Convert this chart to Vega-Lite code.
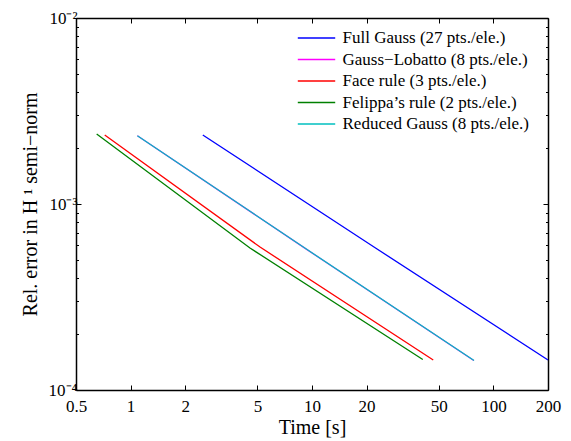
{
  "$schema": "https://vega.github.io/schema/vega-lite/v6.json",
  "width": 472,
  "height": 372,
  "autosize": {"type": "none"},
  "padding": {"left": 76, "top": 18, "right": 23, "bottom": 51},
  "background": "white",
  "config": {
    "view": {"stroke": null},
    "font": "Liberation Serif",
    "axis": {
      "grid": false,
      "domainColor": "black",
      "domainWidth": 1.5,
      "tickColor": "black",
      "tickWidth": 1,
      "labelColor": "black",
      "labelFont": "Liberation Serif",
      "labelFontSize": 17,
      "titleFont": "Liberation Serif",
      "titleFontSize": 20,
      "titleFontWeight": "normal",
      "titleColor": "black",
      "labelFlush": false,
      "labelOverlap": false
    },
    "legend": {
      "labelFont": "Liberation Serif",
      "labelFontSize": 17,
      "labelColor": "black",
      "labelLimit": 0
    }
  },
  "data": {
    "values": [
      {"series": "Full Gauss (27 pts./ele.)", "time": 2.5, "err": 0.00235},
      {"series": "Full Gauss (27 pts./ele.)", "time": 22.4, "err": 0.00058},
      {"series": "Full Gauss (27 pts./ele.)", "time": 200, "err": 0.000145},
      {"series": "Gauss−Lobatto (8 pts./ele.)", "time": 1.09, "err": 0.00233},
      {"series": "Gauss−Lobatto (8 pts./ele.)", "time": 9.3, "err": 0.000572},
      {"series": "Gauss−Lobatto (8 pts./ele.)", "time": 78, "err": 0.000144},
      {"series": "Face rule (3 pts./ele.)", "time": 0.72, "err": 0.00235},
      {"series": "Face rule (3 pts./ele.)", "time": 5.17, "err": 0.000587},
      {"series": "Face rule (3 pts./ele.)", "time": 46.6, "err": 0.000145},
      {"series": "Felippa’s rule (2 pts./ele.)", "time": 0.65, "err": 0.00238},
      {"series": "Felippa’s rule (2 pts./ele.)", "time": 4.55, "err": 0.00058},
      {"series": "Felippa’s rule (2 pts./ele.)", "time": 40.8, "err": 0.000146},
      {"series": "Reduced Gauss (8 pts./ele.)", "time": 1.09, "err": 0.00233},
      {"series": "Reduced Gauss (8 pts./ele.)", "time": 9.0, "err": 0.000585},
      {"series": "Reduced Gauss (8 pts./ele.)", "time": 78.2, "err": 0.000144}
    ]
  },
  "resolve": {"axis": {"x": "independent", "y": "independent"}},
  "layer": [
    {
      "mark": {"type": "line", "strokeWidth": 1.3, "clip": true},
      "encoding": {
        "x": {
          "field": "time",
          "type": "quantitative",
          "scale": {"type": "log", "domain": [0.5, 200], "nice": false},
          "axis": {
            "orient": "bottom",
            "values": [0.5, 1, 2, 5, 10, 20, 50, 100, 200],
            "labelExpr": "datum.value + ''",
            "tickSize": -5,
            "labelPadding": 13,
            "title": "Time [s]",
            "titlePadding": 3
          }
        },
        "y": {
          "field": "err",
          "type": "quantitative",
          "scale": {"type": "log", "domain": [0.0001, 0.01], "nice": false},
          "axis": {
            "orient": "left",
            "values": [0.0001, 0.0002, 0.0003, 0.0004, 0.0005, 0.0006, 0.0007, 0.0008, 0.0009, 0.001, 0.002, 0.003, 0.004, 0.005, 0.006, 0.007, 0.008, 0.009, 0.01],
            "labelExpr": "abs(log(datum.value)/LN10 - round(log(datum.value)/LN10)) < 0.01 ? (round(log(datum.value)/LN10) == -2 ? '10⁻²' : round(log(datum.value)/LN10) == -3 ? '10⁻³' : '10⁻⁴') : ''",
            "tickSize": {"condition": {"test": "abs(log(datum.value)/LN10 - round(log(datum.value)/LN10)) < 0.01", "value": -5}, "value": -2.5},
            "labelPadding": 4,
            "title": "Rel. error in H ¹ semi−norm",
            "titlePadding": 8
          }
        },
        "color": {
          "field": "series",
          "type": "nominal",
          "sort": ["Full Gauss (27 pts./ele.)", "Gauss−Lobatto (8 pts./ele.)", "Face rule (3 pts./ele.)", "Felippa’s rule (2 pts./ele.)", "Reduced Gauss (8 pts./ele.)"],
          "scale": {
            "domain": ["Full Gauss (27 pts./ele.)", "Gauss−Lobatto (8 pts./ele.)", "Face rule (3 pts./ele.)", "Felippa’s rule (2 pts./ele.)", "Reduced Gauss (8 pts./ele.)"],
            "range": ["#0000ff", "#ff00ff", "#ff0000", "#008000", "#00bfbf"]
          },
          "legend": {
            "orient": "none",
            "legendX": 217,
            "legendY": 11.5,
            "title": null,
            "padding": 0,
            "labelFont": "Liberation Serif",
            "labelFontSize": 17,
            "labelLimit": 0,
            "symbolType": "M-5,0H5",
            "symbolSize": 56,
            "symbolStrokeWidth": 1.3,
            "symbolOffset": 15,
            "labelOffset": 17.5,
            "rowPadding": 3.5
          }
        }
      }
    },
    {
      "mark": {"type": "line", "strokeOpacity": 0, "strokeWidth": 0},
      "encoding": {
        "detail": {"field": "series", "type": "nominal"},
        "x": {
          "field": "time",
          "type": "quantitative",
          "scale": {"type": "log", "domain": [0.5, 200], "nice": false},
          "axis": {
            "orient": "top",
            "values": [0.5, 1, 2, 5, 10, 20, 50, 100, 200],
            "labels": false,
            "tickSize": -5,
            "title": null
          }
        },
        "y": {
          "field": "err",
          "type": "quantitative",
          "scale": {"type": "log", "domain": [0.0001, 0.01], "nice": false},
          "axis": {
            "orient": "right",
            "values": [0.0001, 0.0002, 0.0003, 0.0004, 0.0005, 0.0006, 0.0007, 0.0008, 0.0009, 0.001, 0.002, 0.003, 0.004, 0.005, 0.006, 0.007, 0.008, 0.009, 0.01],
            "labels": false,
            "tickSize": {"condition": {"test": "abs(log(datum.value)/LN10 - round(log(datum.value)/LN10)) < 0.01", "value": -5}, "value": -2.5},
            "title": null
          }
        }
      }
    }
  ]
}
